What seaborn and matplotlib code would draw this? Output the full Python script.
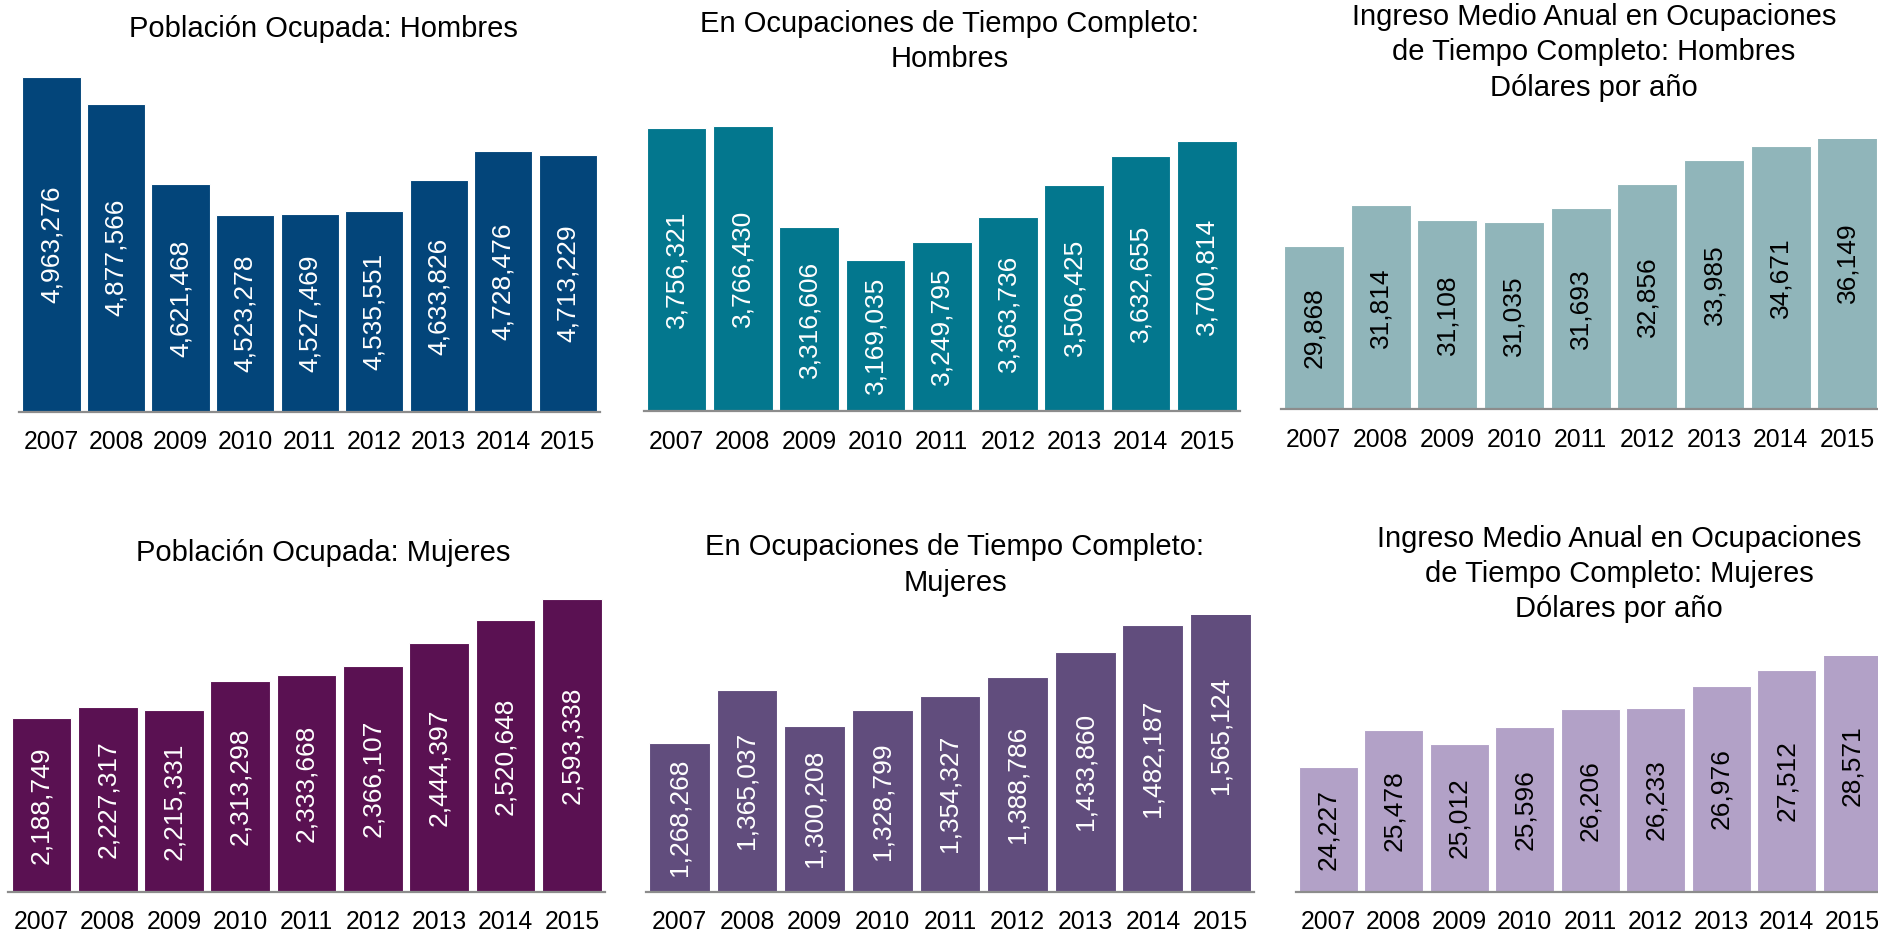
import matplotlib
matplotlib.use("Agg")
import matplotlib.pyplot as plt
import seaborn as sns

years = ["2007", "2008", "2009", "2010", "2011", "2012", "2013", "2014", "2015"]

ocupados_hombres = [4963276, 4877566, 4621468, 4523278, 4527469, 4535551, 4633826, 4728476, 4713229]
tiempo_completo_hombres = [3756321, 3766430, 3316606, 3169035, 3249795, 3363736, 3506425, 3632655, 3700814]
ingreso_hombres = [29868, 31814, 31108, 31035, 31693, 32856, 33985, 34671, 36149]
ocupadas_mujeres = [2188749, 2227317, 2215331, 2313298, 2333668, 2366107, 2444397, 2520648, 2593338]
tiempo_completo_mujeres = [1268268, 1365037, 1300208, 1328799, 1354327, 1388786, 1433860, 1482187, 1565124]
ingreso_mujeres = [24227, 25478, 25012, 25596, 26206, 26233, 26976, 27512, 28571]

titles = [
    "Población Ocupada: Hombres",
    "En Ocupaciones de Tiempo Completo:\nHombres",
    "Ingreso Medio Anual en Ocupaciones\nde Tiempo Completo: Hombres\nDólares por año",
    "Población Ocupada: Mujeres",
    "En Ocupaciones de Tiempo Completo:\nMujeres",
    "Ingreso Medio Anual en Ocupaciones\nde Tiempo Completo: Mujeres\nDólares por año",
]

sns.set_style("white")
plt.rcParams["font.family"] = ["Liberation Sans", "DejaVu Sans"]

W, H = 1878, 932
fig = plt.figure(figsize=(W / 100, H / 100), dpi=100)

# (values, left px, right px, baseline px, top px, ymin, ymax, color, label color, title x px, title y px)
panels = [
    (ocupados_hombres, 19.2, 600.0, 411.7, 65.0, 3900000, 5000000, "#03457A", "white", 323, 29.3),
    (tiempo_completo_hombres, 643.5, 1240.0, 411.0, 96.0, 2500000, 3900000, "#03778E", "white", 950, 41.5),
    (ingreso_hombres, 1280.5, 1880.8, 409.3, 139.3, 22000, 35000, "#90B5BA", "black", 1594, 52.5),
    (ocupadas_mujeres, 8.2, 605.0, 891.7, 596.8, 1600000, 2600000, "#5A1152", "white", 323.5, 552.7),
    (tiempo_completo_mujeres, 645.5, 1254.4, 891.7, 615.0, 1000000, 1500000, "#614D7D", "white", 955, 565.0),
    (ingreso_mujeres, 1295.5, 1885.0, 891.7, 656.0, 20000, 28000, "#B2A1C7", "black", 1619, 574.0),
]

for (vals, lpx, rpx, bpx, tpx, ymin, ymax, col, lcol, tx, ty), title in zip(panels, titles):
    ax = fig.add_axes([lpx / W, 1 - bpx / H, (rpx - lpx) / W, (bpx - tpx) / H])
    sns.barplot(x=years, y=vals, color=col, saturation=1, width=0.9,
                edgecolor="white", linewidth=0.8, ax=ax)
    ax.set_xlim(-0.5, len(years) - 0.5)
    ax.set_ylim(ymin, ymax)
    for s in ["top", "right", "left"]:
        ax.spines[s].set_visible(False)
    ax.spines["bottom"].set_color("#8C8C8C")
    ax.spines["bottom"].set_linewidth(1.6)
    ax.set_yticks([])
    ax.set_xlabel("")
    ax.set_ylabel("")
    ax.tick_params(axis="x", length=0, pad=13.5, labelsize=17.8, labelcolor="black")
    for i, v in enumerate(vals):
        ax.text(i, (ymin + v) / 2, f"{v:,}", rotation=90, ha="center", va="center",
                color=lcol, fontsize=19, clip_on=False)
    fig.text(tx / W, 1 - ty / H, title, ha="center", va="center",
             fontsize=21, color="black", linespacing=1.32)

fig.savefig("out.png", dpi=100)
